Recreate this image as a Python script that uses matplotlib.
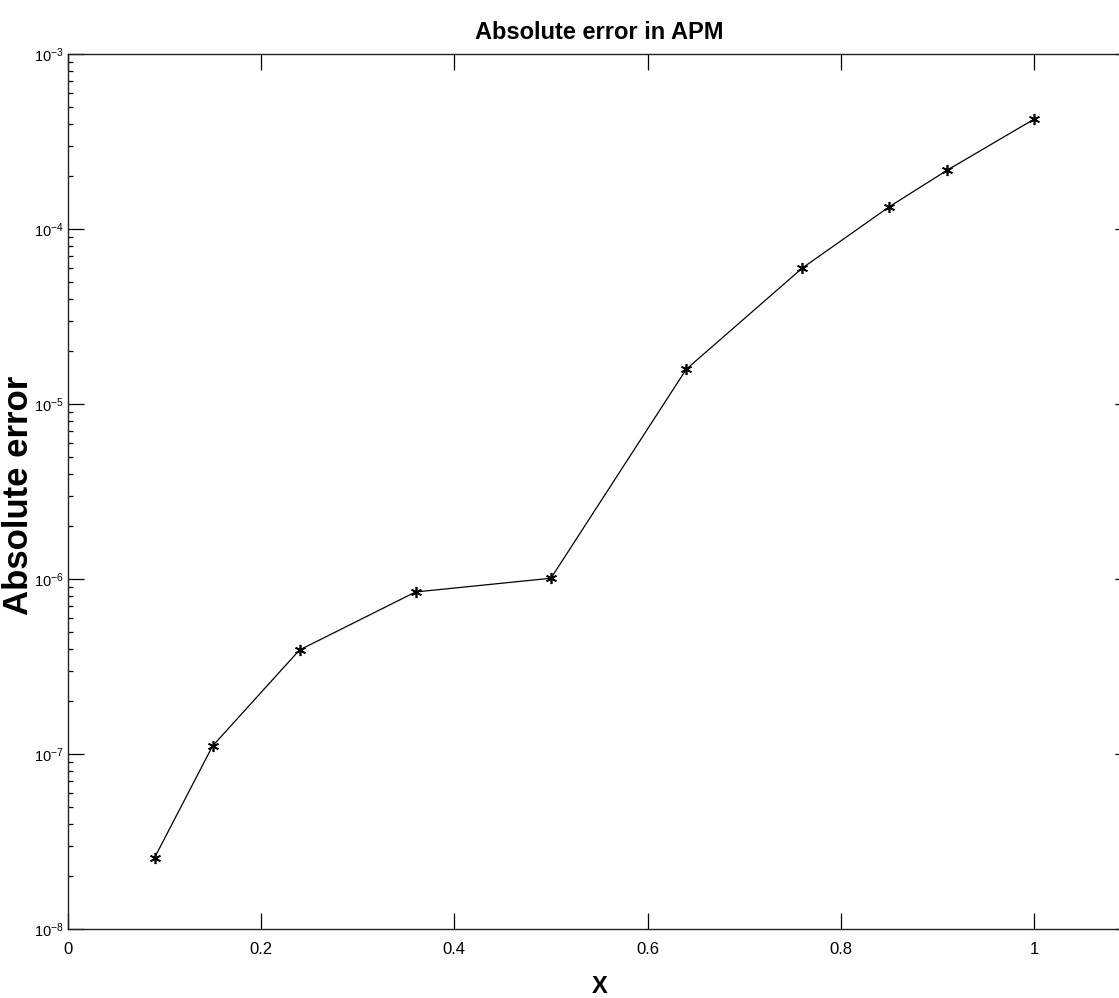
import matplotlib
matplotlib.use("Agg")
import matplotlib.pyplot as plt
from matplotlib import font_manager
from matplotlib.ticker import LogLocator, NullFormatter, FixedLocator

x_vals = [0.09, 0.15, 0.24, 0.36, 0.50, 0.64, 0.76, 0.85, 0.91, 1.00]
abs_err = [2.55e-8, 1.11e-7, 3.93e-7, 8.43e-7, 1.01e-6, 1.58e-5, 5.98e-5, 1.34e-4, 2.17e-4, 4.25e-4]
x_ticks = [0, 0.2, 0.4, 0.6, 0.8, 1.0]
x_tick_labels = ["0", "0.2", "0.4", "0.6", "0.8", "1"]

names = {f.name for f in font_manager.fontManager.ttflist}
narrow = "Liberation Sans Narrow" if "Liberation Sans Narrow" in names else "Liberation Sans"

plt.rcParams['font.family'] = [narrow, 'DejaVu Sans']
plt.rcParams['mathtext.fontset'] = 'custom'
plt.rcParams['mathtext.rm'] = narrow
plt.rcParams['mathtext.it'] = narrow
plt.rcParams['axes.unicode_minus'] = False

fig = plt.figure(figsize=(11.19, 9.98), dpi=100)
ax = fig.add_axes([67.5/1119, 69/998, (1131-67.5)/1119, 875/998])

ax.plot(x_vals, abs_err, color='black', linewidth=0.9,
        marker=(6, 2, 0), markersize=8, markeredgewidth=1.2,
        markeredgecolor='black', markerfacecolor='black')

ax.set_yscale('log')
ax.set_ylim(1e-8, 1e-3)
ax.set_xlim(0, 1.1)
ax.xaxis.set_major_locator(FixedLocator(x_ticks))
ax.set_xticklabels(x_tick_labels)
ax.yaxis.set_major_locator(LogLocator(base=10, numticks=10))
ax.yaxis.set_minor_locator(LogLocator(base=10, subs=range(2, 10), numticks=10))
ax.yaxis.set_minor_formatter(NullFormatter())

ax.tick_params(which='major', direction='in', length=11.5, width=0.9,
               top=True, right=True, labelsize=12)
ax.tick_params(axis='x', which='major', pad=9)
ax.tick_params(axis='y', which='major', pad=3, labelsize=10.5)
ax.tick_params(which='minor', direction='in', length=3.8, width=0.9,
               top=False, right=True)
for s in ax.spines.values():
    s.set_linewidth(1.0)
    s.set_color('#222222')

ax.set_title("Absolute error in APM", fontsize=17, fontweight='bold', pad=11)
ax.set_xlabel("X", fontsize=17, fontweight='bold', labelpad=13,
              family=['Liberation Sans', 'DejaVu Sans'])
ax.set_ylabel("Absolute error", fontsize=25, fontweight='bold',
              family=['Liberation Sans', 'DejaVu Sans'])
ax.yaxis.set_label_coords(35/1119, (998-495)/998, transform=fig.transFigure)

fig.savefig("out.png", dpi=100)
